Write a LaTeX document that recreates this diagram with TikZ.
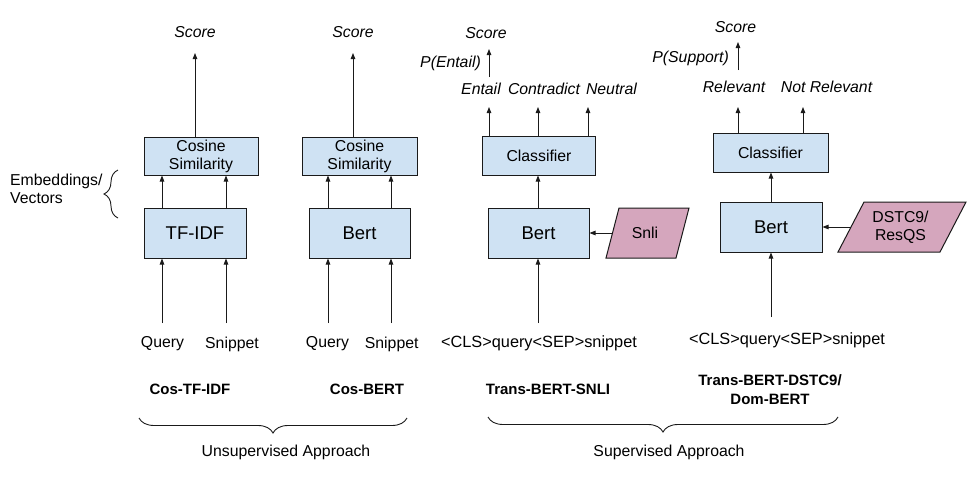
\documentclass[tikz,border=0pt]{standalone}
\usepackage{fontspec}
\setmainfont{Liberation Sans}
\usetikzlibrary{arrows.meta,decorations.pathreplacing}
\definecolor{boxblue}{HTML}{CFE2F3}
\definecolor{parapink}{HTML}{D5A6BD}
\definecolor{ink}{HTML}{1A1A1A}
\begin{document}
\begin{tikzpicture}[x=1pt,y=-1pt,
  box/.style={draw=ink, line width=1pt, fill=boxblue, inner sep=0pt, align=center, font=\fontsize{15.8}{18}\selectfont},
  bigbox/.style={box, font=\fontsize{18.5}{21}\selectfont},
  txt/.style={inner sep=0pt, font=\fontsize{15.8}{18}\selectfont},
  intxt/.style={inner sep=0pt, font=\fontsize{16.3}{18}\selectfont},
  itxt/.style={inner sep=0pt, font=\fontsize{15.8}{18}\selectfont\itshape},
  btxt/.style={inner sep=0pt, align=center, font=\fontsize{15}{19}\selectfont\bfseries},
  arr/.style={draw=ink, line width=0.9pt, -{Triangle[length=6pt,width=4.5pt]}},
  para/.style={draw=ink, line width=1pt, fill=parapink},
  brc/.style={draw=ink, line width=0.9pt, decorate},
]
\useasboundingbox (0,0) rectangle (968,477);

% ---------- boxes ----------
\node[box, minimum width=114pt, minimum height=38pt] (cos1) at (201,156) {Cosine\\Similarity};
\node[box, minimum width=115pt, minimum height=38pt] (cos2) at (359.5,156) {Cosine\\Similarity};
\node[box, minimum width=113pt, minimum height=39pt] (cls1) at (539,155.5) {Classifier};
\node[box, minimum width=115pt, minimum height=39pt] (cls2) at (770.5,152.5) {Classifier};
\node[bigbox, minimum width=102pt, minimum height=50pt] (tfidf) at (195,233) {TF-IDF};
\node[bigbox, minimum width=101pt, minimum height=50pt] (bert2) at (359.5,233) {Bert};
\node[bigbox, minimum width=101pt, minimum height=50pt] (bert3) at (538.5,233) {Bert};
\node[bigbox, minimum width=102pt, minimum height=50pt] (bert4) at (771,227) {Bert};

% ---------- parallelograms ----------
\path[para] (606,258) -- (619,208) -- (689,208) -- (676,258) -- cycle;
\node[txt] (snli) at (645,233) {Snli};
\coordinate (snliL) at (612.5,233);
\path[para] (838,252) -- (864,202) -- (966,202) -- (940,252) -- cycle;
\node[txt, align=center] (dstc) at (900.5,227.5) {DSTC9/\\ResQS};
\coordinate (dstcL) at (851,227);

% ---------- top labels ----------
\node[itxt] (score1) at (195,32.5) {Score};
\node[itxt] (score2) at (353,32.5) {Score};
\node[itxt] (score3) at (486,33.5) {Score};
\node[itxt] (score4) at (735.5,27.5) {Score};
\node[itxt, anchor=east] (pent) at (481,63) {P(Entail)};
\node[itxt, anchor=east] (psup) at (729,58) {P(Support)};
\node[itxt] (ent) at (481,89) {Entail};
\node[itxt] (con) at (544,89) {Contradict};
\node[itxt] (neu) at (611.5,89) {Neutral};
\node[itxt] (rel) at (734,87) {Relevant};
\node[itxt] (nrel) at (826.5,87) {Not Relevant};

% ---------- input labels ----------
\node[txt] (q1) at (162.5,344) {Query};
\node[txt] (s1) at (232,344) {Snippet};
\node[txt] (q2) at (327.5,344) {Query};
\node[txt] (s2) at (391.7,344) {Snippet};
\node[intxt] (in3) at (539,343.5) {<CLS>query<SEP>snippet};
\node[intxt] (in4) at (787,340) {<CLS>query<SEP>snippet};

% ---------- model names ----------
\node[btxt] (m1) at (190,389) {Cos-TF-IDF};
\node[btxt] (m2) at (367,389) {Cos-BERT};
\node[btxt] (m3) at (548,389) {Trans-BERT-SNLI};
\node[btxt] (m4) at (770,389.5) {Trans-BERT-DSTC9/\\Dom-BERT};
\node[txt] (unsup) at (286,452) {Unsupervised Approach};
\node[txt] (sup) at (669,452) {Supervised Approach};
\node[txt, anchor=west, align=left] (emb) at (10,189) {Embeddings/\\Vectors};

% ---------- arrow coordinates ----------
\coordinate (i1a) at (162,323);
\coordinate (i1b) at (226,323);
\coordinate (i2a) at (328,323);
\coordinate (i2b) at (391,323);
\coordinate (i3) at (538,323);
\coordinate (i4) at (771,317);
\coordinate (o1) at (195,53);
\coordinate (o2) at (353,53);
\coordinate (o3a) at (489,107);
\coordinate (o3b) at (538,107);
\coordinate (o3c) at (588,107);
\coordinate (o4a) at (738,107);
\coordinate (o4b) at (803,107);
\coordinate (pe0) at (489,77);
\coordinate (pe) at (489,49);
\coordinate (ps0) at (738,70);
\coordinate (ps) at (738,42);

% ---------- arrows: column 1 ----------
\draw[arr] (i1a) -- (tfidf.south -| i1a);
\draw[arr] (i1b) -- (tfidf.south -| i1b);
\draw[arr] (tfidf.north -| i1a) -- (cos1.south -| i1a);
\draw[arr] (tfidf.north -| i1b) -- (cos1.south -| i1b);
\draw[arr] (cos1.north -| o1) -- (o1);
% column 2
\draw[arr] (i2a) -- (bert2.south -| i2a);
\draw[arr] (i2b) -- (bert2.south -| i2b);
\draw[arr] (bert2.north -| i2a) -- (cos2.south -| i2a);
\draw[arr] (bert2.north -| i2b) -- (cos2.south -| i2b);
\draw[arr] (cos2.north -| o2) -- (o2);
% column 3
\draw[arr] (i3) -- (bert3.south -| i3);
\draw[arr] (bert3.north -| i3) -- (cls1.south -| i3);
\draw[arr] (snliL) -- (bert3.east |- snliL);
\draw[arr] (cls1.north -| o3a) -- (o3a);
\draw[arr] (cls1.north -| o3b) -- (o3b);
\draw[arr] (cls1.north -| o3c) -- (o3c);
\draw[arr] (pe0) -- (pe);
% column 4
\draw[arr] (i4) -- (bert4.south -| i4);
\draw[arr] (bert4.north -| i4) -- (cls2.south -| i4);
\draw[arr] (dstcL) -- (bert4.east |- dstcL);
\draw[arr] (cls2.north -| o4a) -- (o4a);
\draw[arr] (cls2.north -| o4b) -- (o4b);
\draw[arr] (ps0) -- (ps);

% ---------- braces ----------
\draw[brc, decoration={brace, amplitude=14pt}] (118,218) -- (118,170);
\draw[brc, decoration={brace, mirror, amplitude=15pt}] (139,418) -- (407,418);
\draw[brc, decoration={brace, mirror, amplitude=15pt}] (488,417) -- (838,417);
\end{tikzpicture}
\end{document}
